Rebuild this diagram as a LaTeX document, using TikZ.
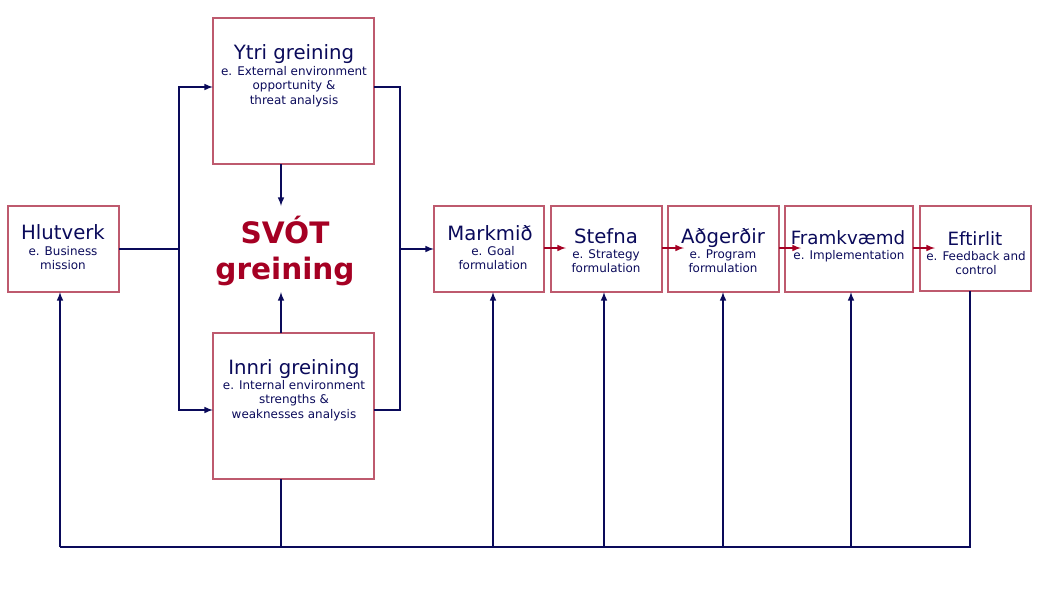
\documentclass[tikz,border=0pt]{standalone}
\usepackage{fontspec}
\setmainfont{DejaVu Sans}
\begin{document}
\begin{tikzpicture}[x=0.025cm,y=-0.025cm]
\definecolor{nv}{RGB}{10,10,90}
\definecolor{bd}{RGB}{190,90,110}
\definecolor{rd}{RGB}{165,0,35}
\tikzset{arr/.style={-latex, draw=nv, line width=1.1pt}, ln/.style={draw=nv, line width=1.1pt},
 rarr/.style={-latex, draw=rd, line width=1.1pt},
 bx/.style={draw=bd, line width=0.9pt},
 ttl/.style={text=nv, font=\fontsize{14}{16}\selectfont, inner sep=0pt, anchor=base},
 sub/.style={text=nv, font=\fontsize{8.5}{10.3}\selectfont, inner sep=0pt, align=center, anchor=north}}
\useasboundingbox (0,0) rectangle (1059,593);
% boxes
\draw[bx] (8,206) rectangle (119,292);
\draw[bx] (213,18) rectangle (374,164);
\draw[bx] (213,333) rectangle (374,479);
\draw[bx] (434,206) rectangle (544,292);
\draw[bx] (551,206) rectangle (662,292);
\draw[bx] (668,206) rectangle (779,292);
\draw[bx] (785,206) rectangle (913,292);
\draw[bx] (920,206) rectangle (1031,291);
% texts
\node[ttl] at (63,239) {Hlutverk};
\node[sub] at (63,246) {e. Business\\mission};
\node[ttl] at (294,59) {Ytri greining};
\node[sub] at (294,66) {e. External environment\\opportunity \&\\threat analysis};
\node[ttl] at (294,374) {Innri greining};
\node[sub] at (294,380) {e. Internal environment\\strengths \&\\weaknesses analysis};
\node[ttl] at (490,240) {Markmið};
\node[sub] at (493,246) {e. Goal\\formulation};
\node[ttl] at (606,243) {Stefna};
\node[sub] at (606,249) {e. Strategy\\formulation};
\node[ttl] at (723,243) {Aðgerðir};
\node[sub] at (723,249) {e. Program\\formulation};
\node[ttl,font=\fontsize{13}{15}\selectfont] at (848,244) {Framkvæmd};
\node[sub] at (849,250) {e. Implementation};
\node[ttl,font=\fontsize{13}{15}\selectfont] at (975,245) {Eftirlit};
\node[sub] at (976,251) {e. Feedback and\\control};
\node[text=rd, font=\bfseries\fontsize{21}{25}\selectfont, align=center, inner sep=0pt] (svot) at (285,251) {SVÓT\\greining};
% connectors
\draw[ln] (119,249) -- (179,249);
\draw[arr] (179,249) |- (213,87);
\draw[arr] (179,249) |- (213,410);
\draw[ln] (374,87) -| (400,410) -- (374,410);
\draw[arr] (400,249) -- (434,249);
\draw[arr] (281,164) -- (281,206);
\draw[arr] (281,333) -- (281,292);
\draw[rarr] (544,248) -- (566,248);
\draw[rarr] (662,248) -- (684,248);
\draw[rarr] (779,248) -- (801,248);
\draw[rarr] (913,248) -- (935,248);
\draw[ln] (970,291) -- (970,547) -- (60,547);
\draw[ln] (281,479) -- (281,547);
\draw[arr] (60,547) -- (60,292);
\draw[arr] (493,547) -- (493,292);
\draw[arr] (604,547) -- (604,292);
\draw[arr] (723,547) -- (723,292);
\draw[arr] (851,547) -- (851,292);
\end{tikzpicture}
\end{document}
